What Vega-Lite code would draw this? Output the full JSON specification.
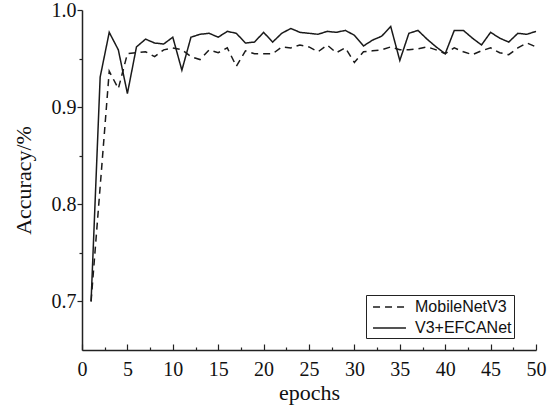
{
  "$schema": "https://vega.github.io/schema/vega-lite/v6.json",
  "width": 454,
  "height": 340,
  "autosize": {"type": "none"},
  "padding": {"left": 82, "top": 10, "right": 20, "bottom": 55},
  "background": "white",
  "config": {
    "view": {"stroke": null},
    "axis": {
      "domainColor": "#222",
      "tickColor": "#222",
      "domainWidth": 1.5,
      "tickWidth": 1.2,
      "grid": false,
      "labelFont": "Liberation Serif",
      "labelFontSize": 20,
      "labelColor": "#111",
      "titleFont": "Liberation Serif",
      "titleFontSize": 22,
      "titleFontWeight": "normal",
      "titleColor": "#111"
    }
  },
  "resolve": {"axis": {"x": "independent", "y": "independent"}},
  "data": {
    "values": [
      {"epoch": 1, "model": "MobileNetV3", "acc": 0.700},
      {"epoch": 2, "model": "MobileNetV3", "acc": 0.818},
      {"epoch": 3, "model": "MobileNetV3", "acc": 0.937},
      {"epoch": 4, "model": "MobileNetV3", "acc": 0.919},
      {"epoch": 5, "model": "MobileNetV3", "acc": 0.955},
      {"epoch": 6, "model": "MobileNetV3", "acc": 0.956},
      {"epoch": 7, "model": "MobileNetV3", "acc": 0.957},
      {"epoch": 8, "model": "MobileNetV3", "acc": 0.952},
      {"epoch": 9, "model": "MobileNetV3", "acc": 0.959},
      {"epoch": 10, "model": "MobileNetV3", "acc": 0.961},
      {"epoch": 11, "model": "MobileNetV3", "acc": 0.959},
      {"epoch": 12, "model": "MobileNetV3", "acc": 0.952},
      {"epoch": 13, "model": "MobileNetV3", "acc": 0.949},
      {"epoch": 14, "model": "MobileNetV3", "acc": 0.959},
      {"epoch": 15, "model": "MobileNetV3", "acc": 0.956},
      {"epoch": 16, "model": "MobileNetV3", "acc": 0.961},
      {"epoch": 17, "model": "MobileNetV3", "acc": 0.942},
      {"epoch": 18, "model": "MobileNetV3", "acc": 0.958},
      {"epoch": 19, "model": "MobileNetV3", "acc": 0.955},
      {"epoch": 20, "model": "MobileNetV3", "acc": 0.955},
      {"epoch": 21, "model": "MobileNetV3", "acc": 0.955},
      {"epoch": 22, "model": "MobileNetV3", "acc": 0.962},
      {"epoch": 23, "model": "MobileNetV3", "acc": 0.961},
      {"epoch": 24, "model": "MobileNetV3", "acc": 0.964},
      {"epoch": 25, "model": "MobileNetV3", "acc": 0.962},
      {"epoch": 26, "model": "MobileNetV3", "acc": 0.957},
      {"epoch": 27, "model": "MobileNetV3", "acc": 0.964},
      {"epoch": 28, "model": "MobileNetV3", "acc": 0.956},
      {"epoch": 29, "model": "MobileNetV3", "acc": 0.961},
      {"epoch": 30, "model": "MobileNetV3", "acc": 0.946},
      {"epoch": 31, "model": "MobileNetV3", "acc": 0.957},
      {"epoch": 32, "model": "MobileNetV3", "acc": 0.958},
      {"epoch": 33, "model": "MobileNetV3", "acc": 0.959},
      {"epoch": 34, "model": "MobileNetV3", "acc": 0.962},
      {"epoch": 35, "model": "MobileNetV3", "acc": 0.959},
      {"epoch": 36, "model": "MobileNetV3", "acc": 0.959},
      {"epoch": 37, "model": "MobileNetV3", "acc": 0.960},
      {"epoch": 38, "model": "MobileNetV3", "acc": 0.962},
      {"epoch": 39, "model": "MobileNetV3", "acc": 0.959},
      {"epoch": 40, "model": "MobileNetV3", "acc": 0.955},
      {"epoch": 41, "model": "MobileNetV3", "acc": 0.961},
      {"epoch": 42, "model": "MobileNetV3", "acc": 0.957},
      {"epoch": 43, "model": "MobileNetV3", "acc": 0.954},
      {"epoch": 44, "model": "MobileNetV3", "acc": 0.958},
      {"epoch": 45, "model": "MobileNetV3", "acc": 0.961},
      {"epoch": 46, "model": "MobileNetV3", "acc": 0.956},
      {"epoch": 47, "model": "MobileNetV3", "acc": 0.954},
      {"epoch": 48, "model": "MobileNetV3", "acc": 0.961},
      {"epoch": 49, "model": "MobileNetV3", "acc": 0.966},
      {"epoch": 50, "model": "MobileNetV3", "acc": 0.962},
      {"epoch": 1, "model": "V3+EFCANet", "acc": 0.700},
      {"epoch": 2, "model": "V3+EFCANet", "acc": 0.931},
      {"epoch": 3, "model": "V3+EFCANet", "acc": 0.977},
      {"epoch": 4, "model": "V3+EFCANet", "acc": 0.959},
      {"epoch": 5, "model": "V3+EFCANet", "acc": 0.914},
      {"epoch": 6, "model": "V3+EFCANet", "acc": 0.962},
      {"epoch": 7, "model": "V3+EFCANet", "acc": 0.970},
      {"epoch": 8, "model": "V3+EFCANet", "acc": 0.966},
      {"epoch": 9, "model": "V3+EFCANet", "acc": 0.965},
      {"epoch": 10, "model": "V3+EFCANet", "acc": 0.972},
      {"epoch": 11, "model": "V3+EFCANet", "acc": 0.938},
      {"epoch": 12, "model": "V3+EFCANet", "acc": 0.972},
      {"epoch": 13, "model": "V3+EFCANet", "acc": 0.975},
      {"epoch": 14, "model": "V3+EFCANet", "acc": 0.976},
      {"epoch": 15, "model": "V3+EFCANet", "acc": 0.972},
      {"epoch": 16, "model": "V3+EFCANet", "acc": 0.978},
      {"epoch": 17, "model": "V3+EFCANet", "acc": 0.976},
      {"epoch": 18, "model": "V3+EFCANet", "acc": 0.966},
      {"epoch": 19, "model": "V3+EFCANet", "acc": 0.967},
      {"epoch": 20, "model": "V3+EFCANet", "acc": 0.977},
      {"epoch": 21, "model": "V3+EFCANet", "acc": 0.967},
      {"epoch": 22, "model": "V3+EFCANet", "acc": 0.976},
      {"epoch": 23, "model": "V3+EFCANet", "acc": 0.981},
      {"epoch": 24, "model": "V3+EFCANet", "acc": 0.977},
      {"epoch": 25, "model": "V3+EFCANet", "acc": 0.976},
      {"epoch": 26, "model": "V3+EFCANet", "acc": 0.975},
      {"epoch": 27, "model": "V3+EFCANet", "acc": 0.978},
      {"epoch": 28, "model": "V3+EFCANet", "acc": 0.977},
      {"epoch": 29, "model": "V3+EFCANet", "acc": 0.979},
      {"epoch": 30, "model": "V3+EFCANet", "acc": 0.974},
      {"epoch": 31, "model": "V3+EFCANet", "acc": 0.963},
      {"epoch": 32, "model": "V3+EFCANet", "acc": 0.969},
      {"epoch": 33, "model": "V3+EFCANet", "acc": 0.973},
      {"epoch": 34, "model": "V3+EFCANet", "acc": 0.983},
      {"epoch": 35, "model": "V3+EFCANet", "acc": 0.948},
      {"epoch": 36, "model": "V3+EFCANet", "acc": 0.976},
      {"epoch": 37, "model": "V3+EFCANet", "acc": 0.979},
      {"epoch": 38, "model": "V3+EFCANet", "acc": 0.970},
      {"epoch": 39, "model": "V3+EFCANet", "acc": 0.962},
      {"epoch": 40, "model": "V3+EFCANet", "acc": 0.955},
      {"epoch": 41, "model": "V3+EFCANet", "acc": 0.979},
      {"epoch": 42, "model": "V3+EFCANet", "acc": 0.979},
      {"epoch": 43, "model": "V3+EFCANet", "acc": 0.971},
      {"epoch": 44, "model": "V3+EFCANet", "acc": 0.964},
      {"epoch": 45, "model": "V3+EFCANet", "acc": 0.977},
      {"epoch": 46, "model": "V3+EFCANet", "acc": 0.971},
      {"epoch": 47, "model": "V3+EFCANet", "acc": 0.967},
      {"epoch": 48, "model": "V3+EFCANet", "acc": 0.976},
      {"epoch": 49, "model": "V3+EFCANet", "acc": 0.975},
      {"epoch": 50, "model": "V3+EFCANet", "acc": 0.978}
    ]
  },
  "layer": [
    {
      "mark": {"type": "point", "opacity": 0},
      "encoding": {
        "x": {
          "field": "epoch",
          "type": "quantitative",
          "scale": {"domain": [0, 50], "nice": false},
          "axis": {
            "orient": "bottom",
            "title": null,
            "values": [2.5, 7.5, 12.5, 17.5, 22.5, 27.5, 32.5, 37.5, 42.5, 47.5],
            "labels": false,
            "domain": false,
            "tickSize": -3
          }
        },
        "y": {
          "field": "acc",
          "type": "quantitative",
          "scale": {"domain": [0.65, 1.0], "nice": false, "zero": false},
          "axis": {
            "orient": "left",
            "title": null,
            "values": [0.75, 0.85, 0.95],
            "labels": false,
            "domain": false,
            "tickSize": 3
          }
        }
      }
    },
    {
      "mark": {"type": "line", "strokeWidth": 1.5, "color": "#1a1a1a"},
      "encoding": {
        "x": {
          "field": "epoch",
          "type": "quantitative",
          "scale": {"domain": [0, 50], "nice": false},
          "axis": {
            "orient": "bottom",
            "title": "epochs",
            "values": [0, 5, 10, 15, 20, 25, 30, 35, 40, 45, 50],
            "tickSize": -6,
            "labelPadding": 15,
            "labelFlush": false,
            "labelOverlap": false,
            "titlePadding": 3
          }
        },
        "y": {
          "field": "acc",
          "type": "quantitative",
          "scale": {"domain": [0.65, 1.0], "nice": false, "zero": false},
          "axis": {
            "orient": "left",
            "title": "Accuracy/%",
            "values": [0.7, 0.8, 0.9, 1.0],
            "format": ".1f",
            "tickSize": 5,
            "labelPadding": 1,
            "labelOverlap": false,
            "labelFlush": false,
            "titlePadding": 16
          }
        },
        "strokeDash": {
          "field": "model",
          "type": "nominal",
          "scale": {"domain": ["MobileNetV3", "V3+EFCANet"], "range": [[7, 5], [1, 0]]},
          "legend": {
            "title": null,
            "orient": "none",
            "legendX": 284,
            "legendY": 285,
            "strokeColor": "#222",
            "padding": 2,
            "symbolType": "M-1.83,0H1.83",
            "symbolSize": 324,
            "symbolOffset": 11.5,
            "symbolStrokeWidth": 1.5,
            "symbolStrokeColor": "#1a1a1a",
            "symbolFillColor": "transparent",
            "labelFont": "Liberation Sans",
            "labelFontSize": 16,
            "labelColor": "#111",
            "rowPadding": 3,
            "labelOffset": 15.5
          }
        }
      }
    }
  ]
}
